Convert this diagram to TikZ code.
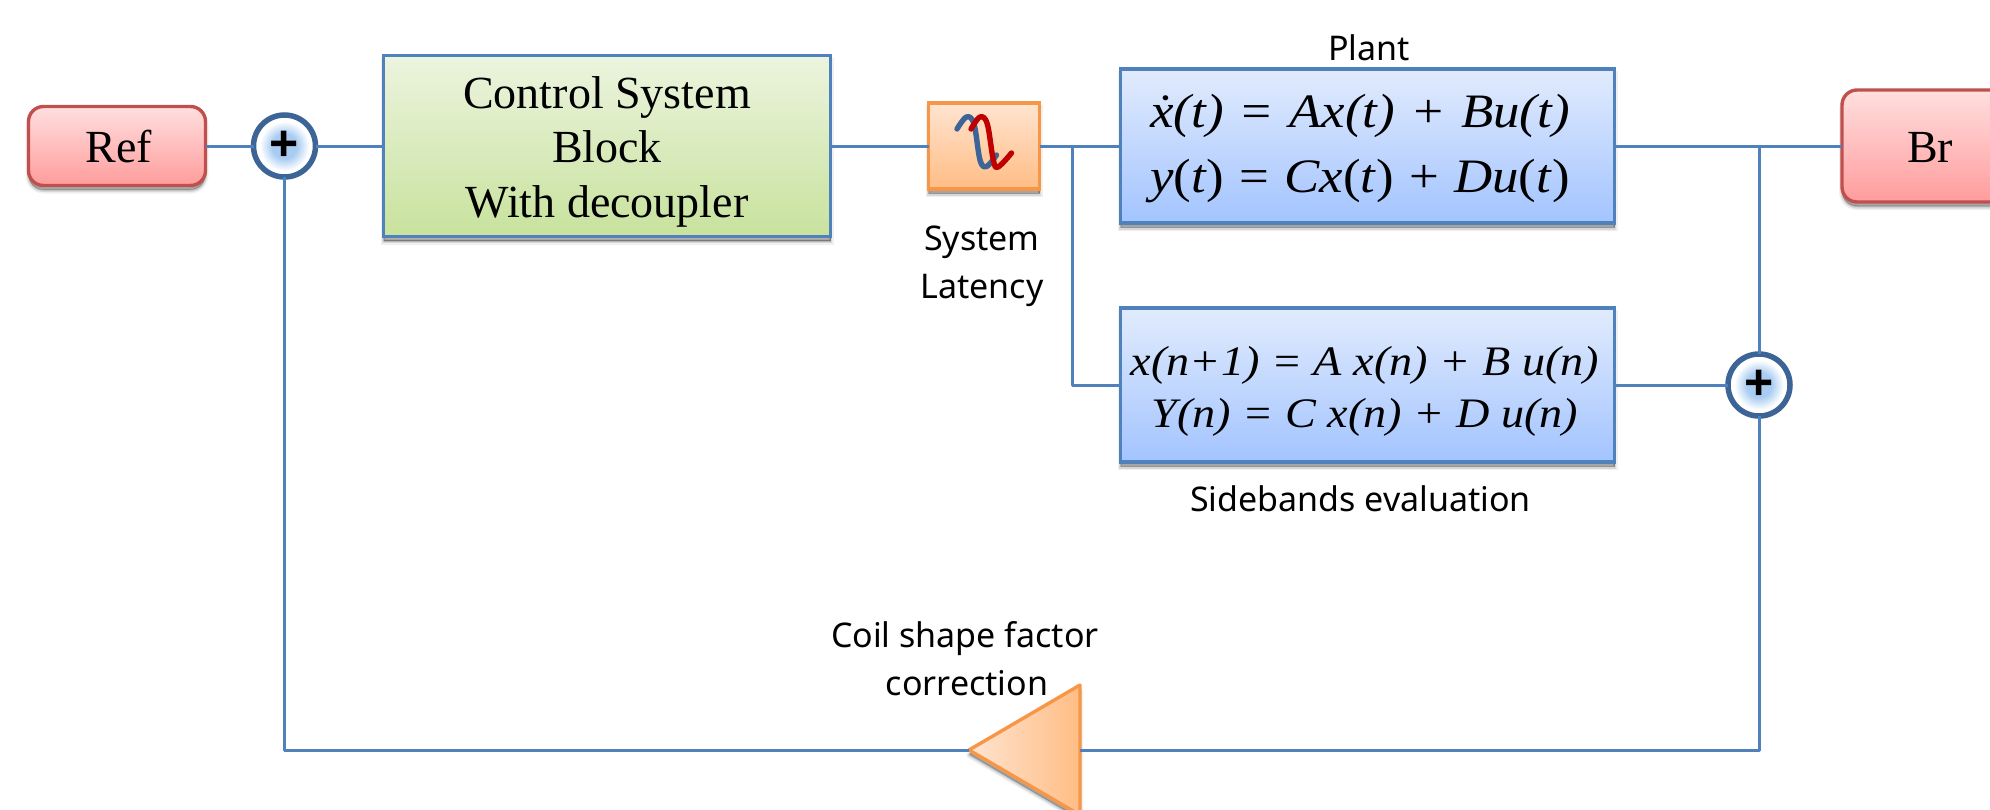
\documentclass[tikz,border=0pt]{standalone}
\usepackage{fontspec}
\setmainfont{Liberation Serif}
\newfontfamily\lsans{Noto Sans}
\newfontfamily\lplus{Liberation Sans}
\newfontfamily\eqfont[FakeStretch=1.1]{Liberation Serif}
\usetikzlibrary{shapes.geometric,shadows}
\definecolor{lineblue}{HTML}{4F81BD}
\definecolor{sumblue}{HTML}{3C6496}
\definecolor{redline}{HTML}{C0504D}
\definecolor{orangeline}{HTML}{F79646}
\definecolor{wavered}{HTML}{C00000}
\definecolor{redtop}{HTML}{FFDFDF}
\definecolor{redbot}{HTML}{FF9C9C}
\definecolor{greentop}{HTML}{ECF4DF}
\definecolor{greenbot}{HTML}{C8E29D}
\definecolor{bluetop}{HTML}{E1EBFD}
\definecolor{bluebot}{HTML}{A3C4FF}
\definecolor{orangetop}{HTML}{FFE4D0}
\definecolor{orangebot}{HTML}{FFBD85}
\definecolor{glow}{HTML}{A8CCF2}
\pgfdeclareradialshading{glowshade}{\pgfpointorigin}{color(0bp)=(glow); color(10bp)=(glow); color(20bp)=(white); color(50bp)=(white)}
\newcommand\topline[1]{\rule{0pt}{#1pt}}
\newcommand\botline[1]{\rule[-#1pt]{0pt}{#1pt}}
\newcommand\eqgap{\kern2pt}
\tikzset{
  softshadow/.style={
    general shadow={shadow yshift=-5pt,fill=black,draw=black,line width=6pt,opacity=.06},
    general shadow={shadow yshift=-5pt,fill=black,draw=black,line width=3pt,opacity=.10},
    general shadow={shadow yshift=-4pt,fill=black,draw=black,line width=0.2pt,opacity=.18}},
  base box/.style={rectangle,inner sep=0pt,outer sep=0pt,line width=3.4pt,align=center,softshadow,text=black},
  redbox/.style={base box,rounded corners=15pt,draw=redline,top color=redtop,bottom color=redbot,
    font=\fontsize{46}{54}\selectfont,text height=38pt,text depth=5pt},
  greenbox/.style={base box,draw=lineblue,top color=greentop,bottom color=greenbot,
    font=\fontsize{46}{54.5}\selectfont},
  bluebox/.style={base box,draw=lineblue,top color=bluetop,bottom color=bluebot},
  orangebox/.style={base box,draw=orangeline,top color=orangetop,bottom color=orangebot},
  sumnode/.style={circle,inner sep=0pt,outer sep=0pt,minimum size=62pt,line width=5.5pt,draw=sumblue,fill=white,
    path picture={\shade[shading=glowshade] (path picture bounding box.center) circle (26pt);},
    font=\lplus\bfseries\fontsize{50}{50}\selectfont,text=black},
  caption/.style={anchor=base,inner sep=0pt,outer sep=0pt,font=\lsans\fontsize{34}{40}\selectfont,text=black},
  wire/.style={draw=lineblue,line width=3pt,line join=round},
  wave/.style={line width=5.4pt,line cap=round,line join=round}
}
\begin{document}
\begin{tikzpicture}[x=1pt,y=-1pt]
\useasboundingbox (0,0) rectangle (1990,809);
\clip (0,0) rectangle (1990,809);
\fill[white] (0,0) rectangle (1990,809);

% blocks
\node[redbox,minimum width=177pt,minimum height=79pt] (ref) at (117,146) {\hspace{4pt}Ref};
\node[sumnode] (sumA) at (284.5,146) {+};
\node[greenbox,minimum width=447pt,minimum height=181pt] (ctl) at (607,146)
  {\topline{49.3}Control System\\Block\\With decoupler\botline{16.3}};
\node[orangebox,minimum width=111pt,minimum height=86pt] (lat) at (984,146) {};
\node[bluebox,minimum width=494pt,minimum height=154pt,font=\eqfont\fontsize{48}{65}\selectfont] (plant) at (1367.5,146)
  {\topline{48}\.{\itshape x}(\textit{t})\eqgap{} = \eqgap\textit{Ax}(\textit{t})\eqgap{} + \eqgap\textit{Bu}(\textit{t})\hspace*{15pt}\\
   \textit{y}(\textit{t})\eqgap{} = \eqgap\textit{Cx}(\textit{t})\eqgap{} + \eqgap\textit{Du}(\textit{t})\hspace*{15pt}\botline{20}};
\node[bluebox,minimum width=494pt,minimum height=154pt,font=\eqfont\fontsize{42}{52}\selectfont\itshape] (side) at (1367.5,385)
  {\topline{53}x(n+1) = A x(n) + B u(n)\hspace*{5pt}\\Y(n) = C x(n) + D u(n)\hspace*{5pt}\botline{20}};
\node[redbox,minimum width=176pt,minimum height=112pt] (br) at (1930,146) {Br};
\node[sumnode] (sumB) at (1759,385) {+};
\node[isosceles triangle,shape border rotate=180,isosceles triangle stretches,inner sep=0pt,outer sep=0pt,
      minimum height=111pt,minimum width=130pt,anchor=apex,line width=3.4pt,draw=orangeline,line join=round,
      left color=orangetop,right color=orangebot,softshadow] (gain) at (969,750) {};

% junctions
\coordinate (jA) at (1072,146);
\coordinate (jB) at (1759,146);

% connectors
\draw[wire] (ref.east) -- (sumA.west);
\draw[wire] (sumA.east) -- (ctl.west);
\draw[wire] (ctl.east) -- (lat.west);
\draw[wire] (lat.east) -- (plant.west);
\draw[wire] (plant.east) -- (br.west);
\draw[wire] (jA) |- (side.west);
\draw[wire] (side.east) -- (sumB.west);
\draw[wire] (jB) -- (sumB.north);
\draw[wire] (sumB.south) |- (gain.east);
\draw[wire] (gain.apex) -| (sumA.south);

% latency icon
\draw[wave,draw=sumblue] plot[smooth,tension=.6] coordinates {(957,129) (966.5,117) (974,124) (980,160) (986.5,166.5) (996.5,155)};
\draw[wave,draw=wavered] plot[smooth,tension=.6] coordinates {(971,129) (980,117) (987.3,124) (993.3,160) (998,167) (1011.5,153)};

% captions
\node[caption] (capplant) at (1369,60) {Plant};
\node[caption] (capsys) at (982,250) {System};
\node[caption] (caplat) at (982,298) {Latency};
\node[caption] (capside) at (1360.5,511) {Sidebands evaluation};
\node[caption] (capcoil) at (965,647) {Coil shape factor};
\node[caption] (capcorr) at (967,695) {correction};
\end{tikzpicture}
\end{document}
